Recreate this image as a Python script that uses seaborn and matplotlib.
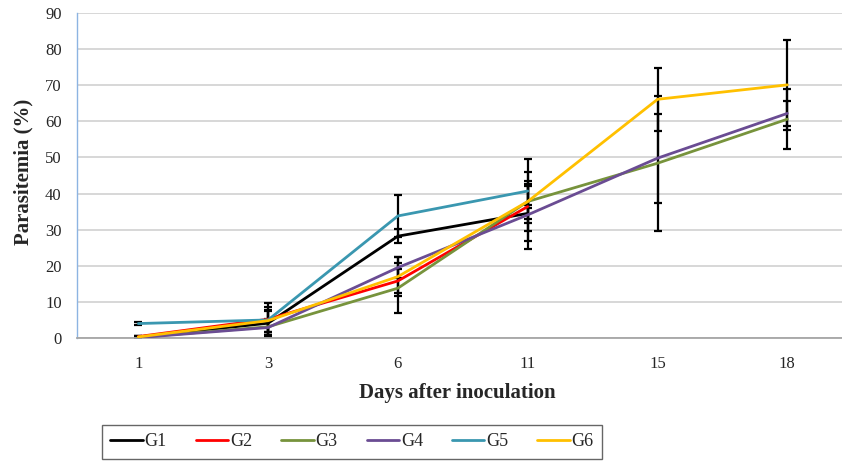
import numpy as np
import pandas as pd
import matplotlib
matplotlib.use("Agg")
import matplotlib.pyplot as plt
import seaborn as sns
from matplotlib.lines import Line2D

days = ["1", "3", "6", "11", "15", "18"]
groups = ["G1", "G2", "G3", "G4", "G5", "G6"]
colors = ["#000000", "#FF0000", "#77933C", "#6A4C93", "#3A97B0", "#FFC000"]

nan = np.nan
G1 = [0.3, 4.1, 28.2, 34.5, nan, nan]
G2 = [0.4, 5.2, 15.8, 36.4, nan, nan]
G3 = [0.2, 3.1, 13.8, 37.8, 48.4, 60.6]
G4 = [0.1, 2.9, 19.5, 34.1, 49.8, 62.2]
G5 = [4.0, 5.0, 33.8, 40.7, nan, nan]
G6 = [0.3, 4.8, 17.0, 37.8, 66.1, 70.1]

E1 = [0.2, 3.3, 2.0, 7.7, nan, nan]
E2 = [0.2, 3.5, 3.3, 0.5, nan, nan]
E3 = [0.2, 2.3, 7.0, 4.8, 18.7, 8.3]
E4 = [0.1, 2.2, 3.0, 9.5, 12.3, 3.5]
E5 = [0.3, 4.6, 5.8, 8.8, nan, nan]
E6 = [0.2, 3.0, 5.5, 8.1, 8.8, 12.4]

values = [G1, G2, G3, G4, G5, G6]
errors = [E1, E2, E3, E4, E5, E6]

rows = []
for g, vals in zip(groups, values):
    for i, (d, v) in enumerate(zip(days, vals)):
        rows.append({"group": g, "pos": i, "day": d, "value": v})
df = pd.DataFrame(rows)

sns.set_style("white")
plt.rcParams["font.family"] = ["Liberation Serif", "DejaVu Serif"]

W, H = 842, 462
fig = plt.figure(figsize=(W / 100, H / 100), dpi=100)
ax_left, ax_right, ax_top, ax_bot = 77, 842, 13, 338
ax = fig.add_axes([ax_left / W, 1 - ax_bot / H, (ax_right - ax_left) / W, (ax_bot - ax_top) / H])

# error bars
pos = np.arange(len(days))
for vals, errs in zip(values, errors):
    ax.errorbar(pos, vals, yerr=errs, fmt="none", ecolor="black",
                elinewidth=1.6, capsize=3, capthick=1.6, zorder=2)

sns.lineplot(data=df.dropna(), x="pos", y="value", hue="group", hue_order=groups,
             palette=dict(zip(groups, colors)), linewidth=2.0, ax=ax,
             legend=False, zorder=3)

ax.set_xlim(-0.472, 5.421)
ax.set_ylim(0, 90)
ax.set_xticks(pos)
ax.set_xticklabels(days)
ax.set_yticks(np.arange(0, 91, 10))
ax.grid(axis="y", color="#d4d4d4", linewidth=1.3)
ax.grid(axis="x", visible=False)
ax.set_axisbelow(True)
for s in ["top", "right"]:
    ax.spines[s].set_visible(False)
ax.spines["left"].set_color("#8DB4E2")
ax.spines["left"].set_linewidth(1.0)
ax.spines["bottom"].set_color("#a6a6a6")
ax.spines["bottom"].set_linewidth(1.3)
ax.tick_params(axis="both", length=0, labelsize=12)
ax.tick_params(axis="y", pad=11)
ax.tick_params(axis="x", pad=13)

ax.set_xlabel("Days after inoculation", fontsize=15, fontweight="bold")
ax.set_ylabel("Parasitemia (%)", fontsize=15, fontweight="bold")
ax.xaxis.set_label_coords((457 - ax_left) / (ax_right - ax_left), (ax_bot - 383) / (ax_bot - ax_top))
ax.yaxis.set_label_coords((33 - ax_left) / (ax_right - ax_left), 0.51)

handles = [Line2D([0], [0], color=c, lw=2.0) for c in colors]
leg = fig.legend(handles, groups, loc="center", bbox_to_anchor=(352 / W, 1 - 442 / H),
                 ncol=6, fontsize=13, handlelength=1.8, handletextpad=0.1,
                 columnspacing=1.6, frameon=True, fancybox=False, borderpad=0.45)
leg.get_frame().set_edgecolor("#404040")
leg.get_frame().set_linewidth(1.0)

fig.savefig("out.png", dpi=100)
